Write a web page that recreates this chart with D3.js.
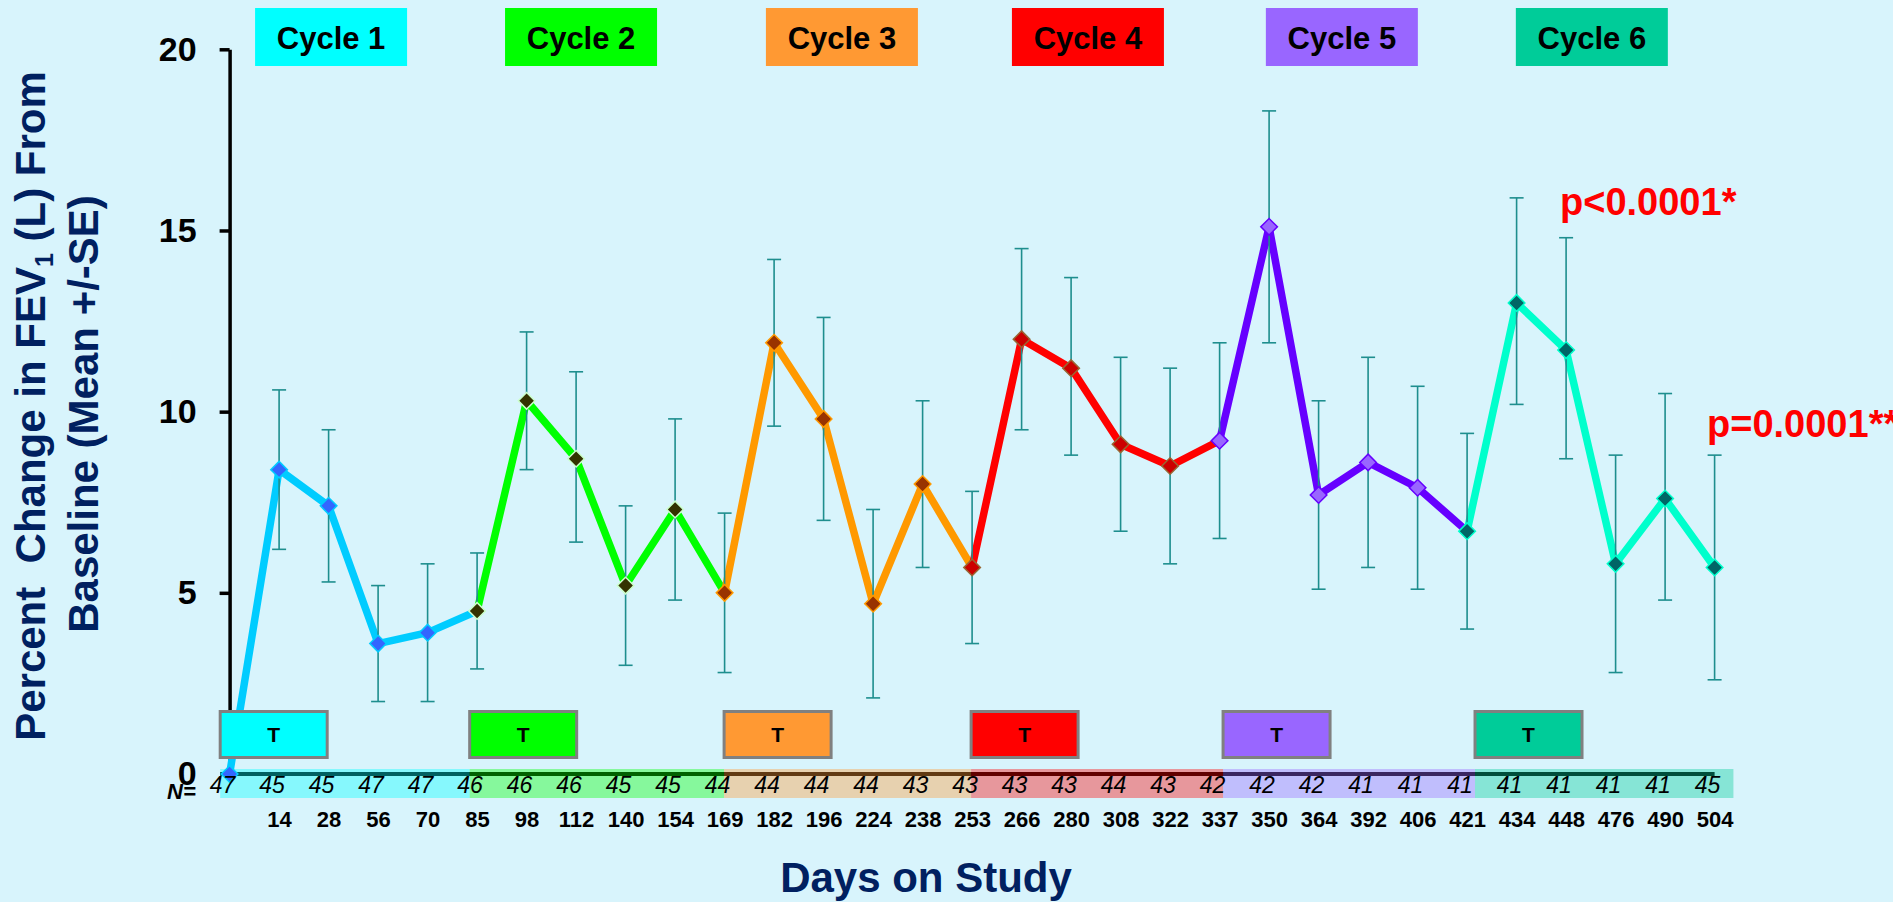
<!DOCTYPE html>
<html>
<head>
<meta charset="utf-8">
<script src="https://cdn.jsdelivr.net/npm/d3@7"></script>
<style>
  html, body { margin: 0; padding: 0; background: #d8f4fc; }
  svg { display: block; font-family: "Liberation Sans", Arial, sans-serif; }
</style>
</head>
<body>
<div id="chart"></div>
<script>
// study days (index 0 = baseline)
const days = [0, 14, 28, 56, 70, 85, 98, 112, 140, 154, 169, 182, 196, 224, 238, 253,
              266, 280, 308, 322, 337, 350, 364, 392, 406, 421, 434, 448, 476, 490, 504];
const nCounts = [47, 45, 45, 47, 47, 46, 46, 46, 45, 45, 44, 44, 44, 44, 43, 43,
                 43, 43, 44, 43, 42, 42, 42, 41, 41, 41, 41, 41, 41, 41, 45];
const meanChange = [0, 8.4, 7.4, 3.6, 3.9, 4.5, 10.3, 8.7, 5.2, 7.3, 5.0, 11.9, 9.8, 4.7, 8.0, 5.7,
                    12.0, 11.2, 9.1, 8.5, 9.2, 15.1, 7.7, 8.6, 7.9, 6.7, 13.0, 11.7, 5.8, 7.6, 5.7];
const seUpper = [null, 10.6, 9.5, 5.2, 5.8, 6.1, 12.2, 11.1, 7.4, 9.8, 7.2, 14.2, 12.6, 7.3, 10.3, 7.8,
                 14.5, 13.7, 11.5, 11.2, 11.9, 18.3, 10.3, 11.5, 10.7, 9.4, 15.9, 14.8, 8.8, 10.5, 8.8];
const seLower = [null, 6.2, 5.3, 2.0, 2.0, 2.9, 8.4, 6.4, 3.0, 4.8, 2.8, 9.6, 7.0, 2.1, 5.7, 3.6,
                 9.5, 8.8, 6.7, 5.8, 6.5, 11.9, 5.1, 5.7, 5.1, 4.0, 10.2, 8.7, 2.8, 4.8, 2.6];

const cycleNames = ["Cycle 1", "Cycle 2", "Cycle 3", "Cycle 4", "Cycle 5", "Cycle 6"];
const cycleColors = ["#00ffff", "#00ff00", "#ff9933", "#ff0000", "#9966ff", "#00cc99"];
const lineColors = ["#00ccff", "#00ff00", "#ff9900", "#ff0000", "#6600ff", "#00ffcc"];
const markerFill = ["#3366ff", "#333300", "#993300", "#cc0000", "#9966ff", "#006666"];
const markerStroke = ["#00ccff", "#ccffcc", "#ff9900", "#996633", "#6600ff", "#00ffcc"];
const yTicks = [0, 5, 10, 15, 20];
const pLabels = ["p<0.0001*", "p=0.0001**"];

// layout
const W = 1893, H = 902;
const headerAt = [2.05, 7.1, 12.37, 17.34, 22.47, 27.52];   // header centres, in point index units
const bandEdges = [-0.19, 4.85, 9.99, 14.98, 20.07, 25.16, 30.38];
const navy = "#002060";
const font = "'Liberation Sans', Arial, sans-serif";

const svg = d3.select("#chart").append("svg")
    .attr("width", W).attr("height", H);

svg.append("rect").attr("width", W).attr("height", H).attr("fill", "#d8f4fc");

const x = d3.scaleLinear().domain([0, days.length - 1]).range([229.6, 1714.6]);
const y = d3.scaleLinear().domain([0, 20]).range([774, 49.3]);

const cycleOf = i => Math.min(Math.floor(i / 5), 5);

// cycle header boxes
const hdr = svg.append("g").selectAll("g").data(cycleNames).enter().append("g");
hdr.append("rect")
    .attr("x", (d, k) => x(headerAt[k]) - 76)
    .attr("y", 8).attr("width", 152).attr("height", 58)
    .attr("fill", (d, k) => cycleColors[k]);
hdr.append("text")
    .attr("x", (d, k) => x(headerAt[k]))
    .attr("y", 48.5)
    .attr("text-anchor", "middle")
    .attr("font-size", 31).attr("font-weight", "bold").attr("fill", "#000")
    .text(d => d);

// y axis
const yAxis = svg.append("g")
    .attr("transform", `translate(${x(0)},0)`)
    .call(d3.axisLeft(y).tickValues(yTicks).tickSize(10).tickSizeOuter(0).tickPadding(23));
yAxis.attr("font-family", font).attr("font-size", 34).attr("font-weight", "bold");
yAxis.select(".domain").attr("stroke", "#000").attr("stroke-width", 3.5);
yAxis.selectAll(".tick line").attr("stroke", "#000").attr("stroke-width", 3.5)
    .attr("opacity", d => d === 0 ? 0 : 1);
yAxis.selectAll(".tick text").attr("fill", "#000");

// x axis dark line along zero
svg.append("line")
    .attr("x1", x(bandEdges[0])).attr("x2", x(days.length - 1))
    .attr("y1", y(0)).attr("y2", y(0))
    .attr("stroke", "#000").attr("stroke-width", 4);

// translucent cycle bands behind N counts
svg.append("g").selectAll("rect").data(cycleColors).enter().append("rect")
    .attr("x", (d, k) => x(bandEdges[k]))
    .attr("width", (d, k) => x(bandEdges[k + 1]) - x(bandEdges[k]))
    .attr("y", 769).attr("height", 29)
    .attr("fill", d => d).attr("fill-opacity", 0.38);

// cycle lines
const line = d3.line().x(i => x(i)).y(i => y(meanChange[i]));
svg.append("g").selectAll("path").data(d3.range(6)).enter().append("path")
    .attr("d", k => line(d3.range(5 * k, 5 * k + 6)))
    .attr("fill", "none")
    .attr("stroke", k => lineColors[k])
    .attr("stroke-width", 7.5)
    .attr("stroke-linejoin", "round");

// error bars
const withErr = d3.range(1, days.length);
const eb = svg.append("g").attr("stroke", "#1e8e8e").attr("stroke-width", 1.6);
eb.selectAll(".v").data(withErr).enter().append("line")
    .attr("x1", i => x(i)).attr("x2", i => x(i))
    .attr("y1", i => y(seUpper[i])).attr("y2", i => y(seLower[i]));
eb.selectAll(".t").data(withErr).enter().append("line")
    .attr("x1", i => x(i) - 7).attr("x2", i => x(i) + 7)
    .attr("y1", i => y(seUpper[i])).attr("y2", i => y(seUpper[i]));
eb.selectAll(".b").data(withErr).enter().append("line")
    .attr("x1", i => x(i) - 7).attr("x2", i => x(i) + 7)
    .attr("y1", i => y(seLower[i])).attr("y2", i => y(seLower[i]));

// markers
const diamond = d3.symbol().type(d3.symbolSquare).size(138);
svg.append("g").selectAll("path").data(d3.range(days.length)).enter().append("path")
    .attr("d", diamond)
    .attr("transform", i => `translate(${x(i)},${y(meanChange[i])}) rotate(45)`)
    .attr("fill", i => markerFill[cycleOf(i)])
    .attr("stroke", i => markerStroke[cycleOf(i)])
    .attr("stroke-width", 1.5);

// treatment boxes
const tb = svg.append("g").selectAll("g").data(cycleColors).enter().append("g");
tb.append("rect")
    .attr("x", (d, k) => x(bandEdges[k]))
    .attr("y", 711.5).attr("width", 107).attr("height", 46)
    .attr("fill", d => d).attr("stroke", "#808080").attr("stroke-width", 3);
tb.append("text")
    .attr("x", (d, k) => x(bandEdges[k]) + 53.5)
    .attr("y", 742)
    .attr("text-anchor", "middle")
    .attr("font-size", 21).attr("font-weight", "bold").attr("fill", "#000")
    .text("T");

// N counts
svg.append("g").selectAll("text").data(nCounts).enter().append("text")
    .attr("x", (d, i) => x(i) - 7)
    .attr("y", 793)
    .attr("text-anchor", "middle")
    .attr("font-size", 23).attr("font-style", "italic").attr("fill", "#000")
    .text(d => d);
svg.append("text")
    .attr("x", 167).attr("y", 799)
    .attr("font-size", 22).attr("font-weight", "bold").attr("font-style", "italic")
    .attr("fill", "#000")
    .text("N=");

// x axis day labels
const xAxis = svg.append("g")
    .attr("transform", "translate(0,811)")
    .call(d3.axisBottom(x).tickValues(d3.range(1, days.length))
        .tickFormat(i => days[i]).tickSize(0).tickPadding(0));
xAxis.attr("font-family", font).attr("font-size", 22).attr("font-weight", "bold");
xAxis.select(".domain").remove();
xAxis.selectAll(".tick text").attr("fill", "#000");

// axis titles
svg.append("text")
    .attr("x", 926).attr("y", 892)
    .attr("text-anchor", "middle")
    .attr("font-size", 42).attr("font-weight", "bold").attr("fill", navy)
    .text("Days on Study");

const t1 = svg.append("text")
    .attr("transform", "translate(45,406) rotate(-90)")
    .attr("text-anchor", "middle")
    .attr("font-size", 42).attr("font-weight", "bold").attr("fill", navy)
    .attr("xml:space", "preserve");
t1.append("tspan").text("Percent  Change in FEV");
t1.append("tspan").attr("font-size", 25).attr("dy", 8).text("1");
t1.append("tspan").attr("dy", -8).text(" (L) From");

svg.append("text")
    .attr("transform", "translate(98,414) rotate(-90)")
    .attr("text-anchor", "middle")
    .attr("font-size", 42).attr("font-weight", "bold").attr("fill", navy)
    .text("Baseline (Mean +/-SE)");

// p-values
svg.append("text")
    .attr("x", 1560).attr("y", 215)
    .attr("font-size", 38).attr("font-weight", "bold").attr("fill", "#ff0000")
    .text(pLabels[0]);
svg.append("text")
    .attr("x", 1707).attr("y", 437)
    .attr("font-size", 38).attr("font-weight", "bold").attr("fill", "#ff0000")
    .text(pLabels[1]);
</script>
</body>
</html>
